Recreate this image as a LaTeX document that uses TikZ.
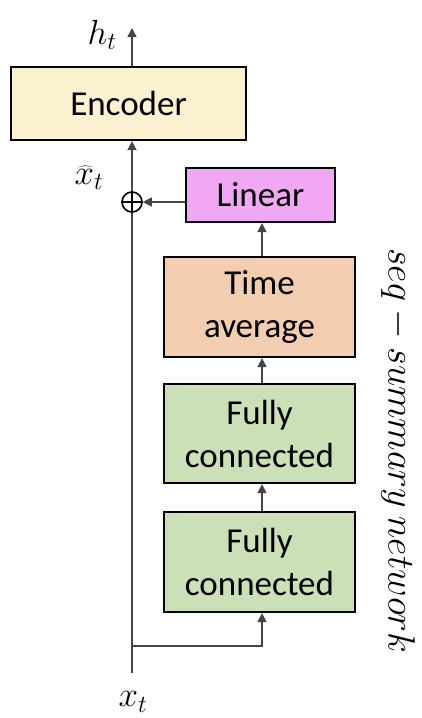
\RequirePackage{fix-cm}
\documentclass[tikz,border=0pt]{standalone}
\usepackage{fontspec}
\setmainfont{Carlito}
\usetikzlibrary{arrows.meta}
\definecolor{encC}{HTML}{FBF0CF}
\definecolor{linC}{HTML}{F0A8F2}
\definecolor{taC}{HTML}{F2CDB0}
\definecolor{fcC}{HTML}{CCE0B8}
\definecolor{lnC}{HTML}{454545}
\begin{document}
\begin{tikzpicture}[x=1pt,y=-1pt,
  box/.style={draw=black,line width=2.2pt,inner sep=0pt,align=center,
    font=\fontsize{35}{43}\selectfont},
  conn/.style={draw=lnC,line width=1.4pt},
  arr/.style={conn,-{Triangle[length=9pt,width=9pt]}},
  mlabel/.style={inner sep=0pt,font=\fontsize{35}{40}\selectfont}]
\useasboundingbox (0,0) rectangle (421,718);
\node[box,fill=encC,minimum width=235pt,minimum height=73pt] (enc) at (128.5,103.5) {Encoder};
\node[box,fill=linC,minimum width=149pt,minimum height=54pt] (lin) at (260.5,195) {Linear};
\node[box,fill=taC,minimum width=191pt,minimum height=100pt] (ta) at (259.5,307) {Time\\average};
\node[box,fill=fcC,minimum width=191pt,minimum height=99pt] (fca) at (259.5,433.5) {Fully\\connected};
\node[box,fill=fcC,minimum width=191pt,minimum height=100pt] (fcb) at (259.5,562) {Fully\\connected};
\node[circle,draw=black,line width=1.6pt,minimum size=20pt,inner sep=0pt] (op) at (132,202) {};
\draw[line width=1.6pt] (op.north) -- (op.south) (op.west) -- (op.east);
\coordinate (top) at (132,28);
\coordinate (bot) at (132,673);
\coordinate (jn) at (132,646);
\draw[conn] (bot) -- (op.south);
\draw[arr] (op.north) -- (op.north |- enc.south);
\draw[arr] (op.north |- enc.north) -- (top);
\draw[arr] (lin.west |- op) -- (op.east);
\draw[arr] ([xshift=2.5pt]ta.north) -- ([xshift=2.5pt]ta.north |- lin.south);
\draw[arr] ([xshift=2.5pt]fca.north) -- ([xshift=2.5pt]fca.north |- ta.south);
\draw[arr] ([xshift=2.5pt]fcb.north) -- ([xshift=2.5pt]fcb.north |- fca.south);
\draw[arr] (jn) -| ([xshift=2.5pt]fcb.south);
\node[mlabel] (ht) at (102,35) {$h_t$};
\node[mlabel] (xh) at (89,178) {$\widehat{x}_t$};
\node[mlabel] (xt) at (133,702) {$x_t$};
\node[mlabel,rotate=-90,font=\fontsize{38}{40}\selectfont] (seq) at (398,451) {$seq-summary\ network$};
\end{tikzpicture}
\end{document}
